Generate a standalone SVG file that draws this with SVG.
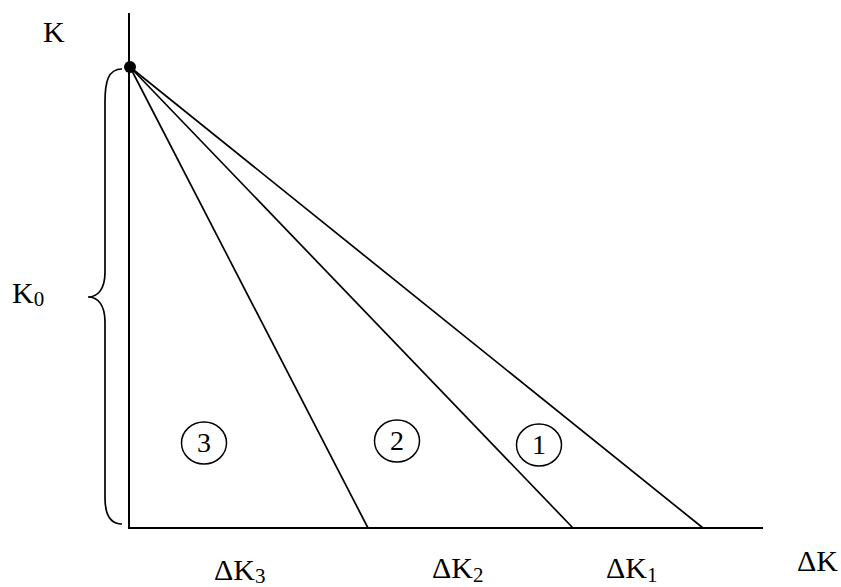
<svg xmlns="http://www.w3.org/2000/svg" width="841" height="587" viewBox="0 0 841 587">
<style>
text{font-family:"Liberation Serif","Times New Roman",serif;font-size:30px;fill:#000}
.sub{font-size:21px}
.num{font-size:28px}
.ax{stroke:#000;stroke-width:2;fill:none}
.ln{stroke:#000;stroke-width:1.7;fill:none}
.cir{stroke:#000;stroke-width:1.5;fill:none}
</style>
<rect width="841" height="587" fill="#fff"/>
<g id="connectors">
<line class="ax" x1="129" y1="13" x2="129" y2="528"/>
<line class="ax" x1="128" y1="528" x2="763" y2="528"/>
<line class="ln" x1="130" y1="67" x2="368" y2="528"/>
<line class="ln" x1="130" y1="67" x2="573" y2="528"/>
<line class="ln" x1="130" y1="67" x2="703" y2="528"/>
</g>
<g id="brace">
<path class="ln" d="M122,69 C108,69 105,82 105,102 L105,272 C105,289 98,297 88,297 C98,297 105,305 105,322 L105,498 C105,514 110,524 122,524"/>
</g>
<g id="origin"><circle cx="130" cy="67" r="6" fill="#000"/></g>
<g id="label-K"><text x="43" y="42">K</text></g>
<g id="label-K0"><text x="12" y="303">K<tspan class="sub" dy="3">0</tspan></text></g>
<g id="region-3"><ellipse class="cir" cx="204" cy="443" rx="22.5" ry="21"/><text class="num" x="204" y="452" text-anchor="middle">3</text></g>
<g id="region-2"><ellipse class="cir" cx="397" cy="441" rx="22.5" ry="21"/><text class="num" x="397" y="450" text-anchor="middle">2</text></g>
<g id="region-1"><ellipse class="cir" cx="539" cy="445" rx="22.5" ry="21"/><text class="num" x="539" y="454" text-anchor="middle">1</text></g>
<g id="label-dK3"><text x="214" y="580">ΔK<tspan class="sub" dy="3">3</tspan></text></g>
<g id="label-dK2"><text x="432" y="578">ΔK<tspan class="sub" dy="4">2</tspan></text></g>
<g id="label-dK1"><text x="606" y="578">ΔK<tspan class="sub" dy="4">1</tspan></text></g>
<g id="label-dK"><text x="797" y="571">ΔK</text></g>
</svg>
